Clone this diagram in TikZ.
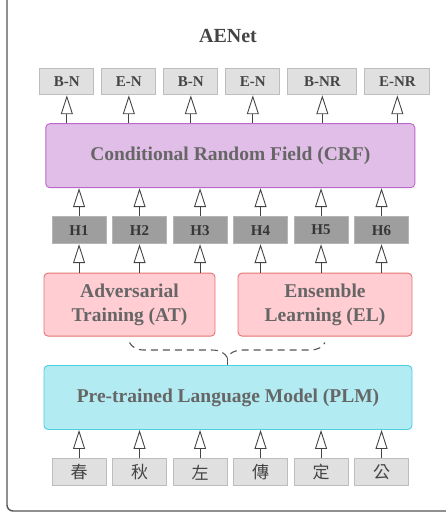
\documentclass[tikz,border=0pt]{standalone}
\usepackage{fontspec}
\setmainfont{Liberation Serif}
\newfontfamily\cjk{Noto Sans CJK TC}
\usepackage{tikz}
\usetikzlibrary{arrows.meta,positioning,calc,decorations.pathreplacing}
\usepackage{xcolor}
\definecolor{framegray}{HTML}{555555}
\definecolor{tagfill}{HTML}{E0E0E0}
\definecolor{tagline}{HTML}{BDBDBD}
\definecolor{hidfill}{HTML}{9E9E9E}
\definecolor{hidline}{HTML}{B5B5B5}
\definecolor{crffill}{HTML}{E1BEE7}
\definecolor{crfline}{HTML}{BA68C8}
\definecolor{atfill}{HTML}{FFCDD2}
\definecolor{atline}{HTML}{E57373}
\definecolor{plmfill}{HTML}{B2EBF2}
\definecolor{plmline}{HTML}{4DD0E1}
\definecolor{arrgray}{HTML}{444444}
\definecolor{txtgray}{HTML}{666666}
\definecolor{darktxt}{HTML}{444444}

\begin{document}
\begin{tikzpicture}[x=1pt,y=1pt,
node distance=28.5pt and 5.5pt,
box/.style={rectangle,draw,rounded corners=4pt,align=center,line width=0.9pt,font=\bfseries\fontsize{19.5}{24}\selectfont,text=txtgray},
tag/.style={rectangle,draw=tagline,fill=tagfill,line width=1pt,minimum width=54pt,minimum height=26pt,inner sep=0pt,font=\bfseries\fontsize{15}{18}\selectfont,text=darktxt},
hid/.style={tag,fill=hidfill,draw=hidline,minimum height=27pt,text=darktxt!80!black},
tok/.style={tag,minimum height=27pt,font=\cjk\fontsize{17}{20}\selectfont},
arr/.style={-{Triangle[open,length=19pt,width=12pt]},line width=0.9pt,draw=arrgray},
brc/.style={draw=framegray,line width=1.1pt}
]
\useasboundingbox (0,0) rectangle (446,515);
\draw[line width=1.4pt,draw=framegray,rounded corners=6pt] (7,4) rectangle (470,540);

\node[font=\bfseries\fontsize{20}{24}\selectfont,text=darktxt] (title) at (228,479) {AENet};

% encoder and the two branches
\node[box,fill=plmfill,draw=plmline,minimum width=368pt,minimum height=64pt] (plm) at (228,117.5) {Pre-trained Language Model (PLM)};
\node[box,fill=atfill,draw=atline,minimum width=171pt,minimum height=63pt,above=of plm.north west,anchor=south west] (at) {Adversarial\\Training (AT)};
\node[box,fill=atfill,draw=atline,minimum width=174pt,minimum height=63pt,above=of plm.north east,anchor=south east] (el) {Ensemble\\Learning (EL)};

% input characters
\node[tok,below=of plm.south west,anchor=north west,xshift=8pt] (c1) {春};
\node[tok,right=of c1] (c2) {秋};
\node[tok,right=of c2] (c3) {左};
\node[tok,right=of c3] (c4) {傳};
\node[tok,right=of c4] (c5) {定};
\node[tok,right=of c5] (c6) {公};

% hidden states
\node[hid,above=of at.north west,anchor=south west,xshift=8pt] (h1) {H1};
\node[hid,right=of h1] (h2) {H2};
\node[hid,right=of h2] (h3) {H3};
\node[hid,right=of h3] (h4) {H4};
\node[hid,right=of h4] (h5) {H5};
\node[hid,right=of h5] (h6) {H6};

\coordinate (hmid) at ($(h3.north east)!0.5!(h4.north west)$);
\node[box,fill=crffill,draw=crfline,minimum width=369pt,minimum height=64pt,above=28pt of hmid] (crf) {Conditional Random Field (CRF)};

% output tags
\node[tag,above=28pt of crf.north west,anchor=south west,xshift=-6pt] (l1) {B-N};
\node[tag,right=7pt of l1] (l2) {E-N};
\node[tag,right=7pt of l2] (l3) {B-N};
\node[tag,right=7pt of l3] (l4) {E-N};
\node[tag,right=7pt of l4,minimum width=69pt] (l5) {B-NR};
\node[tag,right=7pt of l5,minimum width=65pt] (l6) {E-NR};

\draw[arr] (c1) -- (c1 |- plm.south);
\draw[arr] (c2) -- (c2 |- plm.south);
\draw[arr] (c3) -- (c3 |- plm.south);
\draw[arr] (c4) -- (c4 |- plm.south);
\draw[arr] (c5) -- (c5 |- plm.south);
\draw[arr] (c6) -- (c6 |- plm.south);

\draw[arr] (at.north -| h1) -- (h1);
\draw[arr] (at.north -| h2) -- (h2);
\draw[arr] (at.north -| h3) -- (h3);
\draw[arr] (el.north -| h4) -- (h4);
\draw[arr] (el.north -| h5) -- (h5);
\draw[arr] (el.north -| h6) -- (h6);

\draw[arr] (h1) -- (h1 |- crf.south);
\draw[arr] (h2) -- (h2 |- crf.south);
\draw[arr] (h3) -- (h3 |- crf.south);
\draw[arr] (h4) -- (h4 |- crf.south);
\draw[arr] (h5) -- (h5 |- crf.south);
\draw[arr] (h6) -- (h6 |- crf.south);

\draw[arr] (crf.north -| l1) -- (l1);
\draw[arr] (crf.north -| l2) -- (l2);
\draw[arr] (crf.north -| l3) -- (l3);
\draw[arr] (crf.north -| l4) -- (l4);
\draw[arr] (crf.north -| l5) -- (l5);
\draw[arr] (crf.north -| l6) -- (l6);

% both branches feed back from the PLM
\draw[brc,dash pattern=on 7pt off 5pt,decorate,decoration={brace,mirror,amplitude=15pt,raise=6pt}] (at.south) -- (el.south);
\coordinate (tip) at ($(at.south)!0.5!(el.south)+(0,-21)$);
\draw[brc] (tip) -- (tip |- plm.north);
\end{tikzpicture}
\end{document}
